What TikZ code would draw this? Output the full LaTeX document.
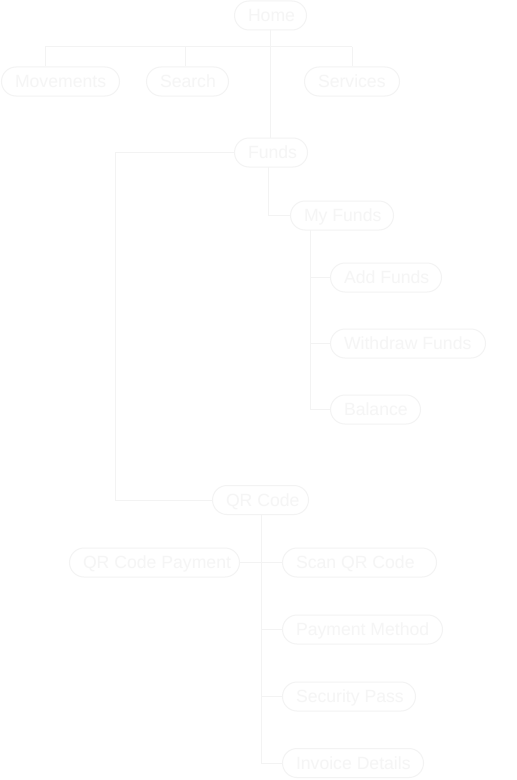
\documentclass[tikz,border=0pt]{standalone}
\usepackage{fontspec}
\setmainfont{Liberation Sans}
\definecolor{faint}{RGB}{243,243,243}
\definecolor{fainttext}{RGB}{245,245,245}
\tikzset{
  pill/.style={draw=faint, line width=1bp, rounded corners=14.5bp, minimum height=29bp,
    inner xsep=13.5bp, inner ysep=0bp, text=fainttext, anchor=west,
    text height=12.4bp, text depth=0bp,
    font=\fontsize{17.7}{20}\selectfont},
  conn/.style={draw=faint, line width=1bp}
}
\newcommand{\pillnode}[5]{% name, left x, center y, width, text
  \node[pill] (#1) at (#2,#3) {\makebox[\dimexpr#4bp-27bp\relax][l]{#5}};}
\begin{document}
\begin{tikzpicture}[x=1bp,y=-1bp]
\fill[white] (0,0) rectangle (517,780);
\useasboundingbox (0,0) rectangle (517,780);
\pillnode{home}{234}{15.5}{72}{Home}
\pillnode{mov}{1}{81.5}{118}{Movements}
\pillnode{search}{146}{81.5}{82}{Search}
\pillnode{serv}{304}{81.5}{95}{Services}
\pillnode{funds}{234}{152.5}{73}{Funds}
\pillnode{myf}{290}{215.5}{103}{My Funds}
\pillnode{addf}{330}{277.5}{111}{Add Funds}
\pillnode{withf}{330}{343.5}{155}{Withdraw Funds}
\pillnode{bal}{330}{409.5}{90}{Balance}
\pillnode{qr}{212}{500}{96}{QR Code}
\pillnode{qrpay}{69}{562.5}{170}{QR Code Payment}
\pillnode{scan}{282}{562.5}{154}{Scan QR Code}
\pillnode{paym}{282}{629.5}{160}{Payment Method}
\pillnode{secp}{282}{696.5}{133}{Security Pass}
\pillnode{inv}{282}{763}{141}{Invoice Details}
% Home bus
\coordinate (hs) at (270,30);
\coordinate (busL) at (45,47);
\coordinate (busM) at (185,47);
\coordinate (busR) at (352,47);
\draw[conn] (hs) -- (hs |- funds.north);
\draw[conn] (busL) -- (busR);
\draw[conn] (busL) -- (busL |- mov.north);
\draw[conn] (busM) -- (busM |- search.north);
\draw[conn] (busR) -- (busR |- serv.north);
% Funds
\coordinate (fl) at (115,152.5);
\draw[conn] (funds.west) -- (fl) -- (fl |- qr.west) -- (qr.west);
\coordinate (fd) at (268,167);
\draw[conn] (fd) -- (fd |- myf.west) -- (myf.west);
\coordinate (md) at (310,230);
\draw[conn] (md) -- (md |- bal.west) -- (bal.west);
\draw[conn] (md |- addf.west) -- (addf.west);
\draw[conn] (md |- withf.west) -- (withf.west);
% QR
\coordinate (qd) at (261,514.5);
\draw[conn] (qd) -- (qd |- inv.west) -- (inv.west);
\draw[conn] (qrpay.east) -- (scan.west);
\draw[conn] (qd |- paym.west) -- (paym.west);
\draw[conn] (qd |- secp.west) -- (secp.west);
\end{tikzpicture}
\end{document}
